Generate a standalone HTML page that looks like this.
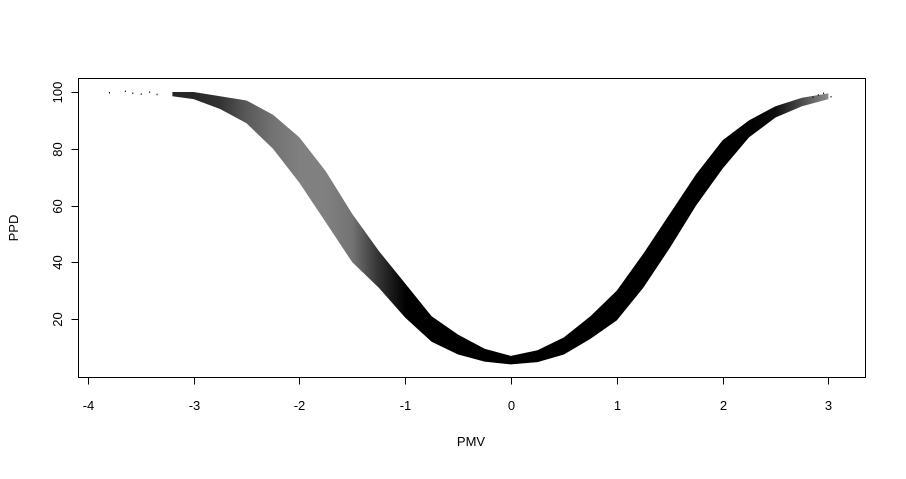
<!DOCTYPE html>
<html><head><meta charset="utf-8"><style>
body{margin:0;background:#fff}
svg text{font-family:"Liberation Sans",Arial,sans-serif;font-size:13px;fill:#000}
</style></head><body>
<svg id="chart" width="906" height="474" xmlns="http://www.w3.org/2000/svg">
<rect x="0" y="0" width="906" height="474" fill="#fff"/>
<defs><linearGradient id="dens" gradientUnits="userSpaceOnUse" x1="0" y1="0" x2="906" y2="0"></linearGradient></defs>
<g id="marks"></g>
<rect x="78.5" y="78.5" width="787" height="299" fill="none" stroke="#000" stroke-width="1"/>
<g id="axes"></g>
<text x="471" y="446" text-anchor="middle">PMV</text>
<text transform="translate(18,228) rotate(-90)" text-anchor="middle">PPD</text>
</svg>
<script>
const pmvVals=[-3.2,-3,-2.75,-2.5,-2.25,-2,-1.75,-1.5,-1.25,-1,-0.75,-0.5,-0.25,0,0.25,0.5,0.75,1,1.25,1.5,1.75,2,2.25,2.5,2.75,3.0];
const ppdLow =[98.5,97.5,94,89,80,68,54,40,31,20.5,12,7.5,5,4,4.8,7.5,13,19.5,31,45,60,73,84,91,95,97.5];
const ppdHigh=[100,100,98.5,97,92,84,72,57,44,32.5,21,14.5,9.5,7,9,13.5,21,30,43,57,71,83,90,95,98,99.5];
const density=[0.85,0.85,0.8,0.65,0.55,0.5,0.5,0.55,0.8,1,1,1,1,1,1,1,1,1,1,1,1,1,1,0.95,0.7,0.45];
const tailPmv=[-3.8,-3.65,-3.58,-3.5,-3.42,-3.35,2.85,2.9,2.95,3.02];
const tailPpd=[100,100.5,99.8,99.5,100.2,99.4,98.5,99.2,99.8,98.6];
const xTicks=[-4,-3,-2,-1,0,1,2,3];
const yTicks=[20,40,60,80,100];
const NS="http://www.w3.org/2000/svg";
function sx(v){return 511+v*105.8;}
function sy(v){return 375.75-v*2.8375;}
const grad=document.getElementById('dens');
pmvVals.forEach((v,i)=>{
  const s=document.createElementNS(NS,'stop');
  s.setAttribute('offset',(sx(v)/906).toFixed(4));
  s.setAttribute('stop-color','#000');
  s.setAttribute('stop-opacity',density[i]);
  grad.appendChild(s);
});
const marks=document.getElementById('marks');
let pts=[];
for(let i=0;i<pmvVals.length;i++)pts.push([sx(pmvVals[i]),sy(ppdHigh[i])]);
for(let i=pmvVals.length-1;i>=0;i--)pts.push([sx(pmvVals[i]),sy(ppdLow[i])]);
const band=document.createElementNS(NS,'polygon');
band.setAttribute('points',pts.map(q=>q[0].toFixed(1)+','+q[1].toFixed(1)).join(' '));
band.setAttribute('fill','url(#dens)');


marks.appendChild(band);
for(let i=0;i<tailPmv.length;i++){
  const r=document.createElementNS(NS,'rect');
  r.setAttribute('x',sx(tailPmv[i]));
  r.setAttribute('y',sy(tailPpd[i]));
  r.setAttribute('width',1);r.setAttribute('height',1.5);r.setAttribute('fill','#000');
  
  
  marks.appendChild(r);
}
const axes=document.getElementById('axes');
function line(x1,y1,x2,y2,name){
  const l=document.createElementNS(NS,'line');
  l.setAttribute('x1',x1);l.setAttribute('y1',y1);l.setAttribute('x2',x2);l.setAttribute('y2',y2);
  l.setAttribute('stroke','#000');
  
  
  axes.appendChild(l);
}
function text(x,y,s,tr,name){
  const t=document.createElementNS(NS,'text');
  t.setAttribute('x',x);t.setAttribute('y',y);t.setAttribute('text-anchor','middle');
  if(tr)t.setAttribute('transform',tr);
  t.textContent=s;
  
  
  axes.appendChild(t);
}
line(Math.round(sx(xTicks[0]))+0.5,377.5,Math.round(sx(xTicks[xTicks.length-1]))+0.5,377.5,'x-axis-line');
xTicks.forEach(v=>{const x=Math.round(sx(v))+0.5;line(x,377.5,x,384.5,'x-tick');text(x,410,String(v),null,'x-tick-label');});
line(78.5,Math.round(sy(yTicks[0]))+0.5,78.5,Math.round(sy(yTicks[yTicks.length-1]))+0.5,'y-axis-line');
yTicks.forEach(v=>{const y=Math.round(sy(v))+0.5;line(71.5,y,78.5,y,'y-tick');text(62,y,String(v),'rotate(-90 62 '+y+')','y-tick-label');});
</script>
</body></html>
